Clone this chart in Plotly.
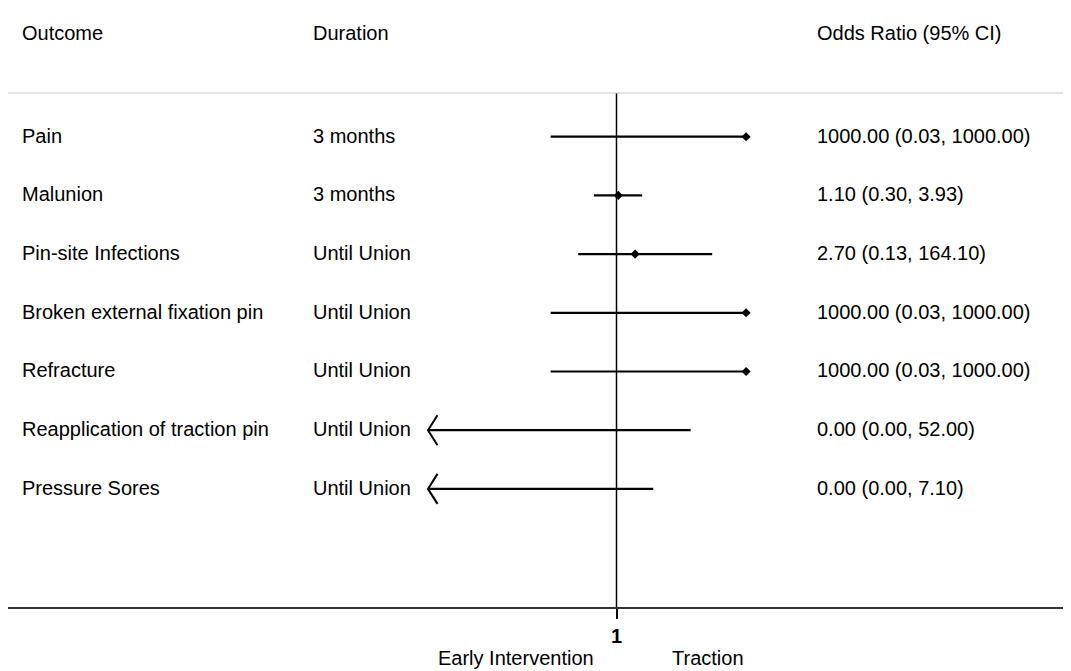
import plotly.graph_objects as go

# ---------------- data ----------------
outcomes = ["Pain", "Malunion", "Pin-site Infections", "Broken external fixation pin",
            "Refracture", "Reapplication of traction pin", "Pressure Sores"]
durations = ["3 months", "3 months", "Until Union", "Until Union",
             "Until Union", "Until Union", "Until Union"]
or_est = [1000.00, 1.10, 2.70, 1000.00, 1000.00, 0.00, 0.00]
ci_low = [0.03, 0.30, 0.13, 0.03, 0.03, 0.00, 0.00]
ci_high = [1000.00, 3.93, 164.10, 1000.00, 1000.00, 52.00, 7.10]
headers = ["Outcome", "Duration", "Odds Ratio (95% CI)"]
side_labels = ["Early Intervention", "Traction"]
tick_vals = [1]
tick_text = ["1"]

# ---------------- style / layout constants ----------------
PAGE_OFF = 8                      # browser body margin
W, H = 1071 - PAGE_OFF, 671 - PAGE_OFF
ML, MR, MT, MB = 0, 0, 93 - PAGE_OFF, H - (607 - PAGE_OFF)
PX_PER_DEC = 43.2
X_ONE_PX = 616.5 - PAGE_OFF
X_RANGE = [(ML - X_ONE_PX) / PX_PER_DEC, (W - MR - X_ONE_PX) / PX_PER_DEC]
ROW0_PX, ROW_STEP = 136.7 - PAGE_OFF, 58.7
Y_RANGE = [1 + (H - MB - ROW0_PX) / ROW_STEP, 1 + (MT - ROW0_PX) / ROW_STEP]
CLIP_LO = 10 ** ((428.0 - PAGE_OFF - X_ONE_PX) / PX_PER_DEC)   # display limit for arrows
ARROW_DEPTH_PX, ARROW_HALF_PX = 9.5, 15.0
FONT = "Liberation Sans, Arial, Helvetica, sans-serif"
FS = 20
PW = W - ML - MR
PH = H - MT - MB


def px_to_paper_x(px):
    return (px - PAGE_OFF - ML) / PW


def px_to_paper_y(py):
    return (H - MB - (py - PAGE_OFF)) / PH


rows = list(range(1, len(outcomes) + 1))

fig = go.Figure()

# reference line at OR = 1
fig.add_trace(go.Scatter(x=[1, 1], y=Y_RANGE, mode="lines",
                         line=dict(color="black", width=1.5),
                         hoverinfo="skip", showlegend=False))

# CI lines
cx, cy = [], []
for r, lo, hi in zip(rows, ci_low, ci_high):
    lo_d = max(lo, CLIP_LO)
    cx += [lo_d, hi, None]
    cy += [r, r, None]
fig.add_trace(go.Scatter(x=cx, y=cy, mode="lines",
                         line=dict(color="black", width=2.2),
                         hoverinfo="skip", showlegend=False))

# arrows for clipped lower limits
k = 10 ** (ARROW_DEPTH_PX / PX_PER_DEC)
dh = ARROW_HALF_PX / ROW_STEP
ax, ay = [], []
for r, lo in zip(rows, ci_low):
    if lo < CLIP_LO:
        ax += [CLIP_LO * k, CLIP_LO, CLIP_LO * k, None]
        ay += [r - dh, r, r + dh, None]
fig.add_trace(go.Scatter(x=ax, y=ay, mode="lines",
                         line=dict(color="black", width=2),
                         hoverinfo="skip", showlegend=False))

# point estimates
px_, py_ = [], []
for r, o in zip(rows, or_est):
    if o > 0:
        px_.append(o)
        py_.append(r)
fig.add_trace(go.Scatter(x=px_, y=py_, mode="markers",
                         marker=dict(symbol="diamond", size=7, color="black"),
                         hoverinfo="skip", showlegend=False))

anns = []
col_x = [px_to_paper_x(19.5), px_to_paper_x(310.5), px_to_paper_x(814.5)]
for h, x in zip(headers, col_x):
    anns.append(dict(text=h, x=x, y=px_to_paper_y(33), xref="paper", yref="paper",
                     xanchor="left", yanchor="middle", showarrow=False))
for r, name, dur, o, lo, hi in zip(rows, outcomes, durations, or_est, ci_low, ci_high):
    lab = f"{o:.2f} ({lo:.2f}, {hi:.2f})"
    for t, x in zip([name, dur, lab], col_x):
        anns.append(dict(text=t, x=x, y=r - 0.02, xref="paper", yref="y",
                         xanchor="left", yanchor="middle", showarrow=False))
for t, cxp in zip(side_labels, [516, 707.5]):
    anns.append(dict(text=t, x=px_to_paper_x(cxp), y=px_to_paper_y(658),
                     xref="paper", yref="paper", xanchor="center", yanchor="middle",
                     showarrow=False))

shapes = [dict(type="line", xref="paper", yref="paper", x0=0, x1=1, y0=1, y1=1,
               line=dict(color="#c8c8c8", width=1.2))]

fig.update_layout(
    width=W, height=H,
    margin=dict(l=ML, r=MR, t=MT, b=MB),
    paper_bgcolor="white", plot_bgcolor="white",
    font=dict(family=FONT, size=FS, color="black"),
    annotations=anns, shapes=shapes,
    xaxis=dict(type="log", range=X_RANGE, showgrid=False, zeroline=False,
               showline=True, linecolor="#333333", linewidth=2,
               tickvals=tick_vals, ticktext=tick_text, ticks="outside",
               ticklen=10, tickwidth=1.5, tickcolor="black",
               tickfont=dict(family=FONT, size=FS, color="black", weight="bold"),
               fixedrange=True),
    yaxis=dict(range=Y_RANGE, visible=False, fixedrange=True),
    showlegend=False,
)

fig.write_html("out.html")
